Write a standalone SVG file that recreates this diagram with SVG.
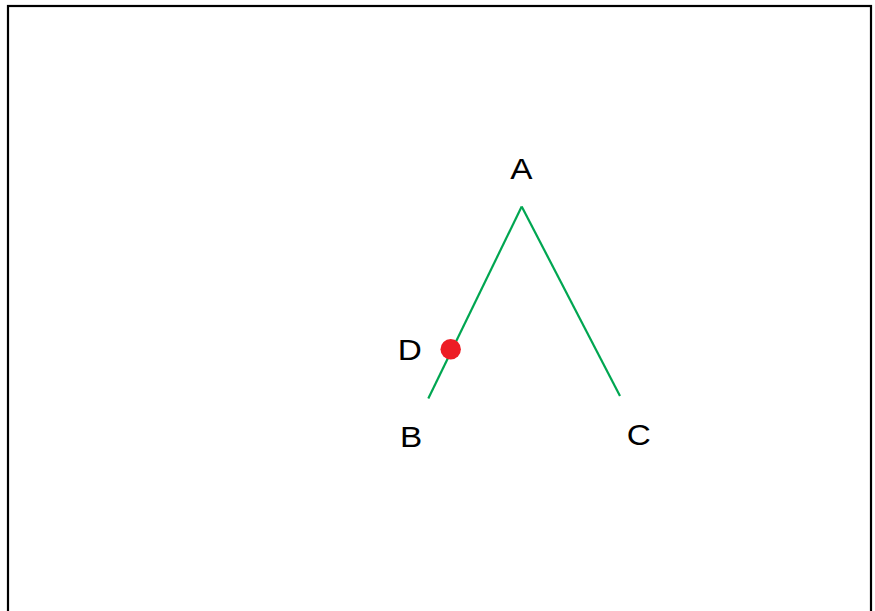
<svg xmlns="http://www.w3.org/2000/svg" width="875" height="611" viewBox="0 0 875 611">
<style>
.lbl{font-family:"Liberation Sans",Arial,sans-serif;font-size:29.5px;fill:#000;text-anchor:middle}
.edge{stroke:#00a651;stroke-width:2.2;fill:none}
</style>
<rect x="0" y="0" width="875" height="611" fill="#fff"/>
<rect x="8" y="6" width="863" height="620" fill="none" stroke="#000" stroke-width="2.2"/>
<g id="connectors">
<line class="edge" x1="521.7" y1="206.5" x2="428.3" y2="398.5"/>
<line class="edge" x1="521.7" y1="206.5" x2="620" y2="396"/>
</g>
<g id="node-A"><text class="lbl" transform="translate(521.4,179.4) scale(1.13,1)">A</text></g>
<g id="node-B"><text class="lbl" transform="translate(411,446.7) scale(1.13,1)">B</text></g>
<g id="node-C"><text class="lbl" transform="translate(638.8,444.6) scale(1.13,1)">C</text></g>
<g id="node-D"><circle cx="450.7" cy="349.3" r="10.2" fill="#ed1c24"/><text class="lbl" transform="translate(409.7,360) scale(1.13,1)">D</text></g>
</svg>
